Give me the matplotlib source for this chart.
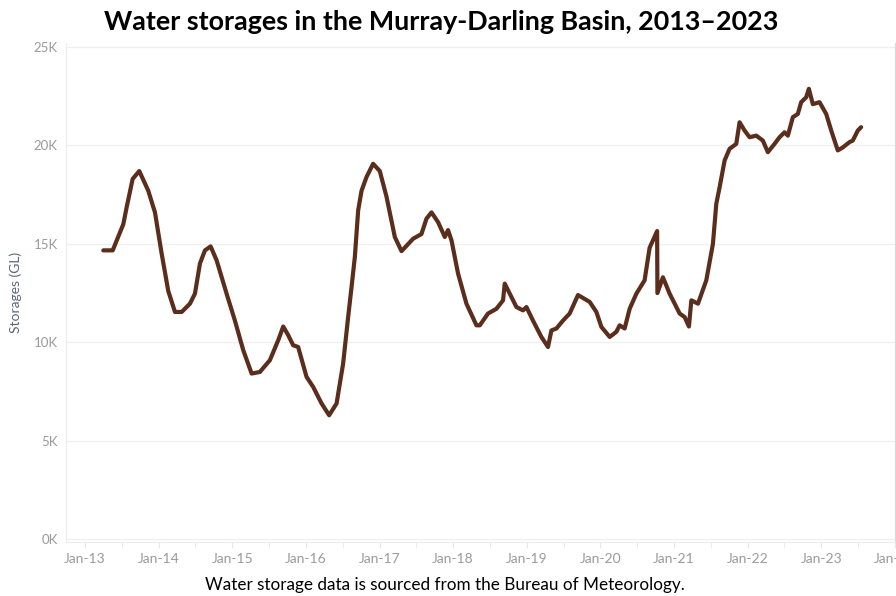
import numpy as np
import matplotlib.pyplot as plt
from matplotlib.ticker import FuncFormatter, MultipleLocator

# tempo em anos decimais e armazenamento em GL
anos = [2013.248, 2013.376, 2013.520, 2013.566, 2013.647, 2013.737, 2013.859, 2013.950,
        2014.041, 2014.131, 2014.222, 2014.313, 2014.425, 2014.493, 2014.561, 2014.629,
        2014.706, 2014.788, 2014.923, 2015.036, 2015.149, 2015.263, 2015.375, 2015.511,
        2015.624, 2015.692, 2015.760, 2015.827, 2015.895, 2016.009, 2016.099, 2016.213,
        2016.316, 2016.417, 2016.506, 2016.574, 2016.620, 2016.665, 2016.710, 2016.756,
        2016.824, 2016.913, 2017.004, 2017.095, 2017.208, 2017.299, 2017.456, 2017.570,
        2017.638, 2017.706, 2017.796, 2017.887, 2017.931, 2017.978, 2018.067, 2018.181,
        2018.317, 2018.362, 2018.474, 2018.588, 2018.678, 2018.701, 2018.769, 2018.860,
        2018.950, 2018.996, 2019.085, 2019.199, 2019.289, 2019.335, 2019.403, 2019.492,
        2019.583, 2019.696, 2019.742, 2019.855, 2019.946, 2020.014, 2020.127, 2020.217,
        2020.262, 2020.330, 2020.398, 2020.489, 2020.601, 2020.669, 2020.771, 2020.775,
        2020.850, 2020.941, 2021.077, 2021.145, 2021.203, 2021.236, 2021.326, 2021.439,
        2021.529, 2021.575, 2021.620, 2021.688, 2021.755, 2021.846, 2021.891, 2021.959,
        2022.027, 2022.118, 2022.207, 2022.275, 2022.366, 2022.434, 2022.502, 2022.547,
        2022.615, 2022.682, 2022.728, 2022.796, 2022.832, 2022.886, 2022.977, 2023.068,
        2023.136, 2023.225, 2023.293, 2023.384, 2023.429, 2023.497, 2023.542]
storage = [14670, 14670, 16000, 16870, 18300, 18700, 17700, 16600,
           14500, 12600, 11540, 11540, 11960, 12470, 14000, 14670,
           14870, 14160, 12470, 11100, 9600, 8410, 8490, 9090,
           10100, 10800, 10360, 9850, 9760, 8240, 7730, 6890,
           6290, 6890, 8920, 11280, 12800, 14330, 16700, 17700,
           18400, 19070, 18700, 17400, 15350, 14630, 15260, 15500,
           16280, 16600, 16100, 15350, 15700, 15180, 13490, 11960,
           10860, 10860, 11460, 11700, 12130, 12980, 12470, 11790,
           11620, 11790, 11100, 10270, 9760, 10600, 10700, 11100,
           11460, 12400, 12300, 12050, 11540, 10780, 10270, 10530,
           10860, 10700, 11700, 12470, 13150, 14800, 15650, 12500,
           13300, 12470, 11460, 11280, 10800, 12130, 11960, 13150,
           15000, 17040, 17880, 19240, 19830, 20080, 21180, 20760,
           20420, 20500, 20250, 19660, 20080, 20420, 20670, 20500,
           21440, 21600, 22200, 22450, 22880, 22100, 22200, 21600,
           20760, 19750, 19900, 20170, 20250, 20760, 20930]

anos_ticks = list(range(2013, 2025))
rotulos_x = ['Jan-%02d' % (a % 100) for a in anos_ticks]

plt.rcParams['font.family'] = ['Lato', 'DejaVu Sans']

fig = plt.figure(figsize=(8.96, 5.96), dpi=100)
ax = fig.add_axes([0.0737, 0.0906, 0.925, 0.837])

ax.plot(anos, storage, color='#5a2d1c', lw=3.0, solid_joinstyle='round', solid_capstyle='round')

ax.yaxis.set_major_locator(MultipleLocator(5000))
ax.yaxis.set_major_formatter(FuncFormatter(lambda v, p: '%dK' % (v / 1000)))
ax.set_xticks(anos_ticks)
ax.set_xticklabels(rotulos_x)
ax.set_xticks(np.arange(2013.5, 2024.0, 0.5), minor=True)

# limites depois dos ticks, senão o set_xticks muda a janela
ax.set_xlim(2012.742, 2024.0)
ax.set_ylim(-150, 25200)

ax.grid(axis='y', color='#efefef', lw=0.9)
ax.set_axisbelow(True)

ax.spines['top'].set_visible(False)
ax.spines['left'].set_color('#ececec')
ax.spines['bottom'].set_color('#ececec')
ax.spines['right'].set_color('#d9d9d9')

ax.tick_params(axis='y', length=0, pad=6, labelsize=9.5, labelcolor='#9a9a9a')
ax.tick_params(axis='x', which='both', length=4, color='#e6e6e6', pad=4, labelsize=10,
               labelcolor='#9a9a9a')

ax.set_ylabel('Storages (GL)', fontsize=10, color='#5b6878', labelpad=8)

fig.text(0.492, 0.963, 'Water storages in the Murray-Darling Basin, 2013\u20132023',
         ha='center', va='center', fontsize=19.4, fontweight='bold', color='black')
fig.text(0.497, 0.018, 'Water storage data is sourced from the Bureau of Meteorology.',
         ha='center', va='center', fontsize=12.3, color='black')

fig.savefig('out.png', dpi=100)
